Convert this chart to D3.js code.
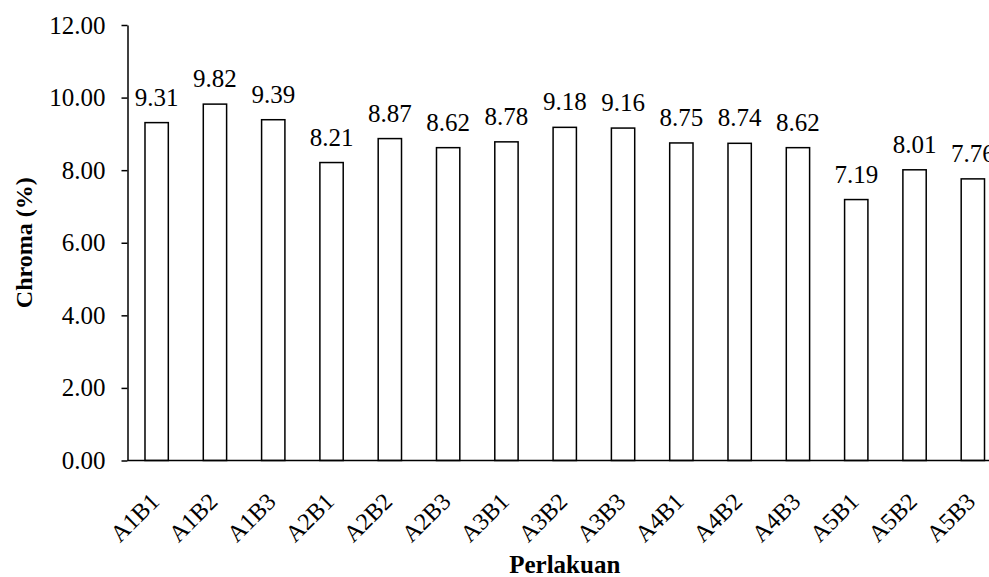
<!DOCTYPE html>
<html>
<head>
<meta charset="utf-8">
<script src="https://cdn.jsdelivr.net/npm/d3@7/dist/d3.min.js"></script>
<style>
  html, body { margin: 0; padding: 0; background: #fff; overflow: hidden; }
  svg text { font-family: "Liberation Serif", "Times New Roman", Times, serif; }
</style>
</head>
<body>
<svg id="chart" width="989" height="577"></svg>
<script>
// Chroma per treatment
const categories = ["A1B1","A1B2","A1B3","A2B1","A2B2","A2B3","A3B1","A3B2","A3B3","A4B1","A4B2","A4B3","A5B1","A5B2","A5B3"];
const chroma = [9.31, 9.82, 9.39, 8.21, 8.87, 8.62, 8.78, 9.18, 9.16, 8.75, 8.74, 8.62, 7.19, 8.01, 7.76];
const yTicks = [0, 2, 4, 6, 8, 10, 12];

const svg = d3.select("#chart");
const plotLeft = 127.5, plotRight = 1002, plotTop = 25, plotBottom = 460.5;

const x = d3.scaleBand()
  .domain(categories)
  .range([plotLeft, plotRight])
  .paddingInner(0.6)
  .paddingOuter(0.3);

const y = d3.scaleLinear().domain([0, 12]).range([plotBottom, plotTop]);

// y axis
const yAxis = svg.append("g")
  .attr("transform", `translate(${plotLeft},0)`)
  .call(d3.axisLeft(y).tickValues(yTicks).tickFormat(d3.format(".2f")).tickSize(6).tickSizeOuter(0).tickPadding(16));
yAxis.attr("font-family", null);
yAxis.select(".domain").attr("stroke", "#000").attr("stroke-width", 1.5);
yAxis.selectAll(".tick line").attr("stroke", "#000").attr("stroke-width", 1.5);
yAxis.selectAll(".tick text").attr("font-size", 25).attr("fill", "#000");

// bars
const rows = categories.map((c, i) => ({ cat: c, val: chroma[i] }));
svg.append("g").selectAll("rect").data(rows).join("rect")
  .attr("x", d => x(d.cat))
  .attr("y", d => y(d.val))
  .attr("width", x.bandwidth())
  .attr("height", d => y(0) - y(d.val))
  .attr("fill", "#fff")
  .attr("stroke", "#000")
  .attr("stroke-width", 1.5);

// x baseline
svg.append("line")
  .attr("x1", plotLeft).attr("x2", plotRight)
  .attr("y1", y(0)).attr("y2", y(0))
  .attr("stroke", "#000").attr("stroke-width", 1.5);

// value labels
svg.append("g").selectAll("text").data(rows).join("text")
  .attr("x", d => x(d.cat) + x.bandwidth() / 2)
  .attr("y", d => y(d.val) - 17)
  .attr("text-anchor", "middle")
  .attr("font-size", 25)
  .attr("fill", "#000")
  .text(d => d.val.toFixed(2));

// category labels, rotated
svg.append("g").selectAll("text").data(categories).join("text")
  .attr("transform", d => `translate(${x(d) + x.bandwidth() / 2 + 4},503) rotate(-45)`)
  .attr("text-anchor", "end")
  .attr("font-size", 24)
  .attr("fill", "#000")
  .text(d => d);

// axis titles
svg.append("text")
  .attr("x", (plotLeft + plotRight) / 2)
  .attr("y", 573)
  .attr("text-anchor", "middle")
  .attr("font-size", 25)
  .attr("font-weight", "bold")
  .text("Perlakuan");

svg.append("text")
  .attr("transform", `translate(32,${(plotTop + plotBottom) / 2}) rotate(-90)`)
  .attr("text-anchor", "middle")
  .attr("font-size", 24)
  .attr("font-weight", "bold")
  .text("Chroma (%)");
</script>
</body>
</html>
